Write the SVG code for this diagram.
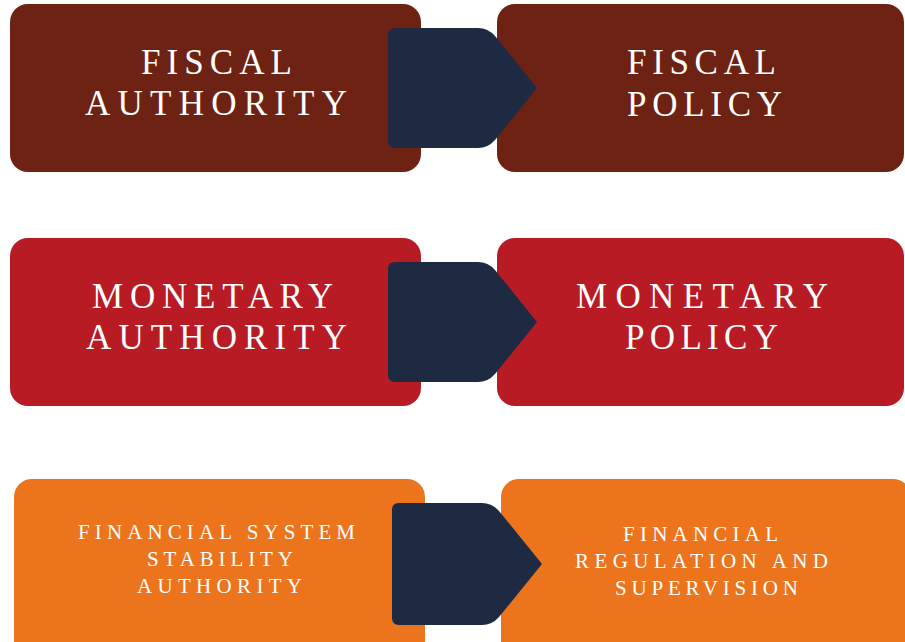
<svg xmlns="http://www.w3.org/2000/svg" width="905" height="642" viewBox="0 0 905 642">
<style>
.t{font-family:"Liberation Serif","DejaVu Serif",serif;fill:#ffffff}
.big{font-size:35px}
.small{font-size:21px}
.r1{fill:#6e2213}
.r2{fill:#b91b25}
.r3{fill:#ec741d}
.arr{fill:#1e2a42}
</style>
<defs>
<path id="arrow" d="M395,0 H478 Q488,0 495,8 L537,60 L495,112 Q488,120 478,120 H395 Q388,120 388,113 V7 Q388,0 395,0 Z"/>
</defs>
<rect width="905" height="642" fill="#ffffff"/>
<g id="fiscal-authority">
<rect class="r1" x="10" y="4" width="411" height="168" rx="18"/>
<text class="t big" x="141" y="74" textLength="151" lengthAdjust="spacing">FISCAL</text>
<text class="t big" x="85" y="115" textLength="262" lengthAdjust="spacing">AUTHORITY</text>
</g>
<g id="fiscal-policy">
<rect class="r1" x="497" y="4" width="407" height="168" rx="18"/>
<text class="t big" x="627" y="74" textLength="149" lengthAdjust="spacing">FISCAL</text>
<text class="t big" x="627" y="116" textLength="155" lengthAdjust="spacing">POLICY</text>
</g>
<g id="monetary-authority">
<rect class="r2" x="10" y="238" width="411" height="168" rx="18"/>
<text class="t big" x="92" y="308" textLength="241" lengthAdjust="spacing">MONETARY</text>
<text class="t big" x="86" y="349" textLength="261" lengthAdjust="spacing">AUTHORITY</text>
</g>
<g id="monetary-policy">
<rect class="r2" x="497" y="238" width="407" height="168" rx="18"/>
<text class="t big" x="576" y="308" textLength="252" lengthAdjust="spacing">MONETARY</text>
<text class="t big" x="625" y="349" textLength="153" lengthAdjust="spacing">POLICY</text>
</g>
<g id="financial-system-stability-authority">
<rect class="r3" x="14" y="479" width="411" height="190" rx="18"/>
<text class="t small" x="78" y="539" textLength="277" lengthAdjust="spacing">FINANCIAL SYSTEM</text>
<text class="t small" x="147" y="566" textLength="146" lengthAdjust="spacing">STABILITY</text>
<text class="t small" x="137" y="593" textLength="165" lengthAdjust="spacing">AUTHORITY</text>
</g>
<g id="financial-regulation-supervision">
<rect class="r3" x="501" y="479" width="410" height="190" rx="18"/>
<text class="t small" x="623" y="541" textLength="155" lengthAdjust="spacing">FINANCIAL</text>
<text class="t small" x="575" y="568" textLength="253" lengthAdjust="spacing">REGULATION AND</text>
<text class="t small" x="615" y="595" textLength="183" lengthAdjust="spacing">SUPERVISION</text>
</g>
<g id="connectors">
<use href="#arrow" class="arr" x="0" y="28"/>
<use href="#arrow" class="arr" x="0" y="262"/>
<path class="arr" d="M399,503 H482 Q492,503 499,511 L542,564 L499,617 Q492,625 482,625 H399 Q392,625 392,618 V510 Q392,503 399,503 Z"/>
</g>
</svg>
